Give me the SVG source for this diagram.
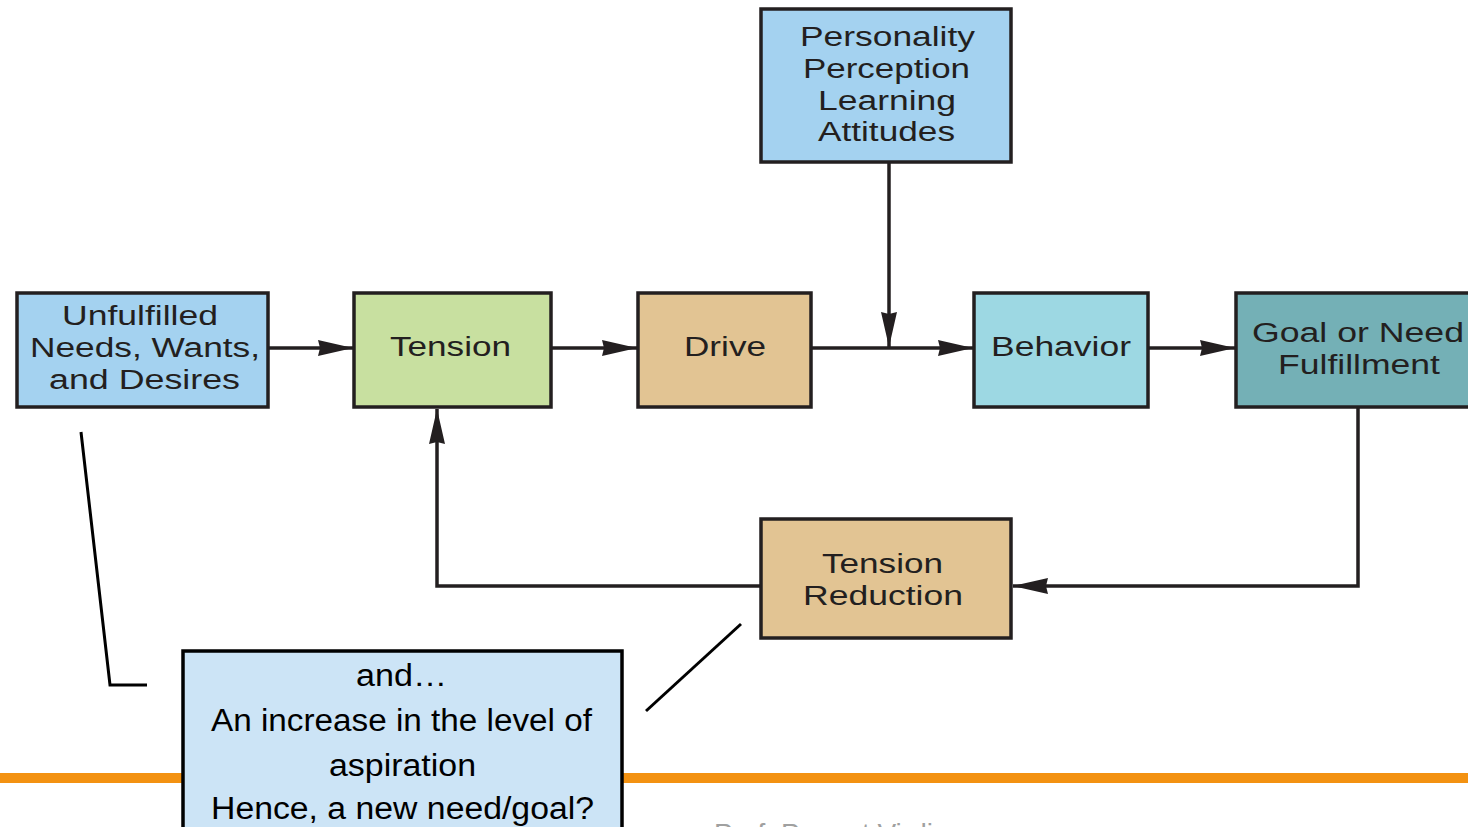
<svg xmlns="http://www.w3.org/2000/svg" width="1468" height="827" viewBox="0 0 1468 827">
  <defs>
    <style>
      .box { stroke: #231f20; stroke-width: 3.5; }
      .lbl { font-family: "Liberation Sans", Arial, sans-serif; font-size: 27px; fill: #231f20; text-anchor: start; }
      .conn { stroke: #231f20; stroke-width: 3.5; fill: none; }
      .call { stroke: #000; stroke-width: 3; fill: none; }
      .ctext { font-family: "Liberation Sans", Arial, sans-serif; font-size: 31px; fill: #000; }
    </style>
    <marker id="arr" markerUnits="userSpaceOnUse" markerWidth="36" markerHeight="20" refX="35" refY="10" orient="auto">
      <path d="M0,2 L35,10 L0,18 L2,10 z" fill="#231f20"/>
    </marker>
  </defs>
  <rect width="1468" height="827" fill="#ffffff"/>

  <!-- footer line -->
  <rect x="0" y="773" width="1468" height="10" fill="#f39212"/>
  <text x="714" y="843" font-family="'Liberation Sans', Arial, sans-serif" font-size="28" fill="#a0a0a0">Prof. Puneet Virdi</text>

  <g id="connectors">
    <line class="conn" x1="268" y1="348" x2="353" y2="348" marker-end="url(#arr)"/>
    <line class="conn" x1="551" y1="348" x2="637" y2="348" marker-end="url(#arr)"/>
    <line class="conn" x1="811" y1="348" x2="973" y2="348" marker-end="url(#arr)"/>
    <line class="conn" x1="1148" y1="348" x2="1235" y2="348" marker-end="url(#arr)"/>
    <line class="conn" x1="889" y1="162" x2="889" y2="347" marker-end="url(#arr)"/>
    <polyline class="conn" points="1358,407 1358,586 1013,586" marker-end="url(#arr)"/>
    <polyline class="conn" points="761,586 437,586 437,409" marker-end="url(#arr)"/>
    <!-- callout pointers -->
    <polyline class="call" points="81,432 110,685 147,685"/>
    <line class="call" x1="741" y1="624" x2="646" y2="711"/>
  </g>

  <g id="node-unfulfilled">
    <rect class="box" x="17" y="293" width="251" height="114" fill="#a4d2f0"/>
    <text class="lbl" x="62" y="325" textLength="156" lengthAdjust="spacingAndGlyphs">Unfulfilled</text>
    <text class="lbl" x="30" y="357" textLength="230" lengthAdjust="spacingAndGlyphs">Needs, Wants,</text>
    <text class="lbl" x="49" y="389" textLength="191" lengthAdjust="spacingAndGlyphs">and Desires</text>
  </g>

  <g id="node-tension">
    <rect class="box" x="354" y="293" width="197" height="114" fill="#c8e0a0"/>
    <text class="lbl" x="390" y="356" textLength="121" lengthAdjust="spacingAndGlyphs">Tension</text>
  </g>

  <g id="node-drive">
    <rect class="box" x="638" y="293" width="173" height="114" fill="#e2c493"/>
    <text class="lbl" x="684" y="356" textLength="82" lengthAdjust="spacingAndGlyphs">Drive</text>
  </g>

  <g id="node-behavior">
    <rect class="box" x="974" y="293" width="174" height="114" fill="#9dd8e3"/>
    <text class="lbl" x="991" y="356" textLength="140" lengthAdjust="spacingAndGlyphs">Behavior</text>
  </g>

  <g id="node-goal">
    <rect class="box" x="1236" y="293" width="240" height="114" fill="#74b0b6"/>
    <text class="lbl" x="1252" y="342" textLength="212" lengthAdjust="spacingAndGlyphs">Goal or Need</text>
    <text class="lbl" x="1278" y="374" textLength="162" lengthAdjust="spacingAndGlyphs">Fulfillment</text>
  </g>

  <g id="node-personality">
    <rect class="box" x="761" y="9" width="250" height="153" fill="#a4d2f0"/>
    <text class="lbl" x="800" y="46" textLength="175" lengthAdjust="spacingAndGlyphs">Personality</text>
    <text class="lbl" x="803" y="78" textLength="167" lengthAdjust="spacingAndGlyphs">Perception</text>
    <text class="lbl" x="818" y="110" textLength="138" lengthAdjust="spacingAndGlyphs">Learning</text>
    <text class="lbl" x="818" y="141" textLength="137" lengthAdjust="spacingAndGlyphs">Attitudes</text>
  </g>

  <g id="node-reduction">
    <rect class="box" x="761" y="519" width="250" height="119" fill="#e2c493"/>
    <text class="lbl" x="822" y="573" textLength="121" lengthAdjust="spacingAndGlyphs">Tension</text>
    <text class="lbl" x="803" y="605" textLength="160" lengthAdjust="spacingAndGlyphs">Reduction</text>
  </g>

  <g id="node-callout">
    <rect x="183" y="651" width="439" height="190" fill="#cce4f6" stroke="#000" stroke-width="3.5"/>
    <text class="ctext" x="356" y="686" textLength="91" lengthAdjust="spacingAndGlyphs">and…</text>
    <text class="ctext" x="211" y="731" textLength="381" lengthAdjust="spacingAndGlyphs">An increase in the level of</text>
    <text class="ctext" x="329" y="776" textLength="147" lengthAdjust="spacingAndGlyphs">aspiration</text>
    <text class="ctext" x="211" y="819" textLength="383" lengthAdjust="spacingAndGlyphs">Hence, a new need/goal?</text>
  </g>
</svg>
